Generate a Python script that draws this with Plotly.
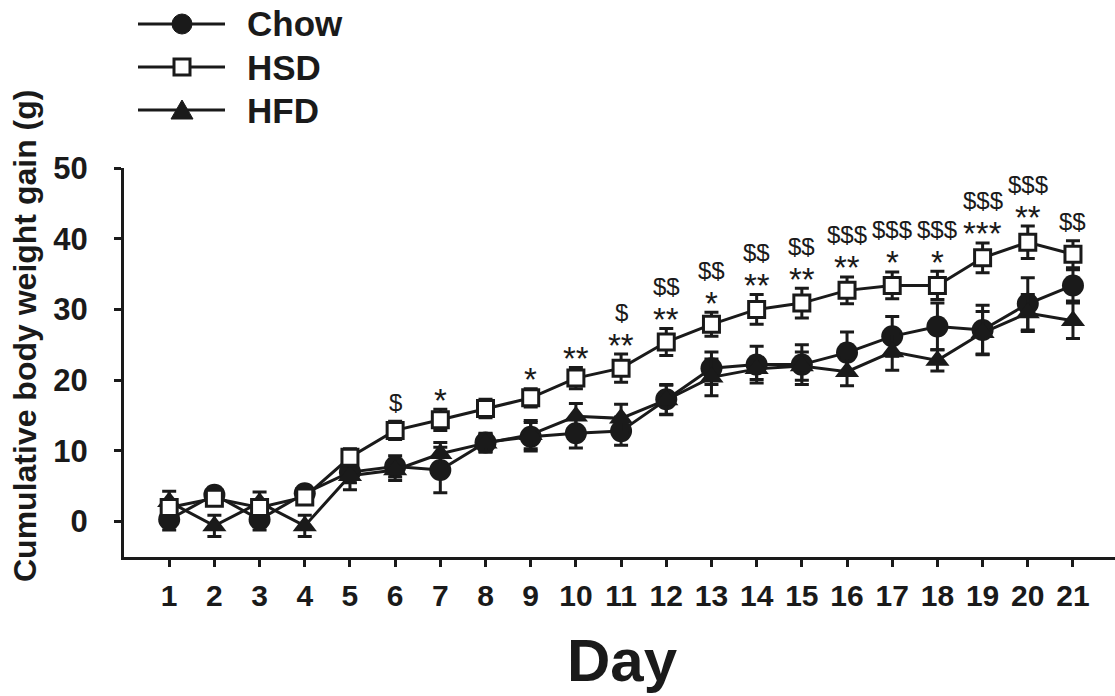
import plotly.graph_objects as go

# ---------------- data ----------------
days = list(range(1, 22))
chow = [0.3, 3.8, 0.3, 4.0, 7.0, 7.8, 7.3, 11.2, 12.0, 12.5, 12.8, 17.3, 21.7, 22.2, 22.2, 23.9, 26.2, 27.6, 27.1, 30.8, 33.4]
chow_err = [1.5, 1.0, 1.5, 1.0, 1.5, 1.5, 3.2, 1.3, 2.0, 2.1, 2.0, 2.1, 2.3, 2.6, 2.8, 2.9, 2.8, 3.3, 3.5, 3.7, 2.2]
hsd = [2.0, 3.3, 2.0, 3.5, 9.1, 12.9, 14.4, 16.0, 17.5, 20.3, 21.7, 25.4, 27.9, 30.0, 30.9, 32.7, 33.4, 33.4, 37.3, 39.5, 37.8]
hsd_err = [1.0, 1.0, 1.0, 1.0, 1.2, 1.3, 1.5, 1.3, 1.3, 1.5, 2.0, 1.9, 1.7, 2.1, 2.1, 1.9, 1.9, 2.0, 2.1, 2.3, 1.9]
hfd = [2.8, -0.6, 2.7, -0.6, 6.5, 7.3, 9.6, 11.1, 12.3, 14.9, 14.6, 17.2, 20.4, 21.6, 22.0, 21.2, 24.0, 22.8, 26.7, 29.5, 28.4]
hfd_err = [1.5, 1.5, 1.5, 1.5, 2.0, 1.5, 1.6, 1.3, 2.0, 1.8, 2.0, 2.1, 2.6, 1.5, 2.0, 2.0, 2.6, 1.5, 3.0, 2.6, 2.5]
stars = ["", "", "", "", "", "", "*", "", "*", "**", "**", "**", "*", "**", "**", "**", "*", "*", "***", "**", ""]
dollars = ["", "", "", "", "", "$", "", "", "", "", "$", "$$", "$$", "$$", "$$", "$$$", "$$$", "$$$", "$$$", "$$$", "$$"]
y_ticks = [0, 10, 20, 30, 40, 50]

INK = "#1a1a1a"
FONT = "Liberation Sans, Arial, sans-serif"

fig = go.Figure()

def err(arr):
    return dict(type="data", array=arr, visible=True, color=INK, thickness=3, width=7)

fig.add_trace(go.Scatter(x=days, y=chow, mode="lines+markers", name="Chow",
                         line=dict(color=INK, width=3),
                         marker=dict(symbol="circle", size=22, color=INK),
                         error_y=err(chow_err)))
fig.add_trace(go.Scatter(x=days, y=hfd, mode="lines+markers", name="HFD",
                         line=dict(color=INK, width=3),
                         marker=dict(symbol="triangle-up", size=21, color=INK),
                         error_y=err(hfd_err)))
fig.add_trace(go.Scatter(x=days, y=hsd, mode="lines+markers", name="HSD",
                         line=dict(color=INK, width=3),
                         marker=dict(symbol="square", size=16, color="white",
                                     line=dict(color=INK, width=3)),
                         error_y=err(hsd_err)))

annotations = []
for d, v, e, s, dl in zip(days, hsd, hsd_err, stars, dollars):
    top = v + e
    if s:
        annotations.append(dict(x=d, y=top, xref="x", yref="y", text=s, showarrow=False,
                                yanchor="middle", yshift=9,
                                font=dict(family=FONT, size=33, color=INK)))
    if dl:
        annotations.append(dict(x=d, y=top, xref="x", yref="y", text=dl, showarrow=False,
                                yanchor="middle", yshift=42 if s else 19,
                                font=dict(family=FONT, size=24, color=INK)))

# positions in page pixels -> paper coords
W, H, L, B = 991.0, 389.0, 124.0, 557.0
def px(x):
    return (x - L) / W
def py(y):
    return (B - y) / H

# axis titles
annotations.append(dict(x=px(25), y=py(336), xref="paper", yref="paper",
                        text="<b>Cumulative body weight gain (g)</b>", textangle=-90,
                        showarrow=False, xanchor="center", yanchor="middle",
                        font=dict(family=FONT, size=32, color=INK)))
annotations.append(dict(x=px(622), y=py(660), xref="paper", yref="paper",
                        text="<b>Day</b>", showarrow=False, xanchor="center", yanchor="middle",
                        font=dict(family=FONT, size=60, color=INK)))

# manual legend
shapes = []
legend_rows = [("Chow", 24), ("HSD", 67), ("HFD", 110)]
for name, ry in legend_rows:
    yy = py(ry)
    shapes.append(dict(type="line", xref="paper", yref="paper", x0=px(138), x1=px(225),
                       y0=yy, y1=yy, line=dict(color=INK, width=3)))
    annotations.append(dict(x=px(245), y=yy, xref="paper", yref="paper", text="<b>%s</b>" % name,
                            showarrow=False, xanchor="left", yanchor="middle",
                            font=dict(family=FONT, size=35, color=INK)))
    common = dict(xref="paper", yref="paper", xsizemode="pixel", ysizemode="pixel",
                  xanchor=px(182), yanchor=yy)
    if name == "Chow":
        shapes.append(dict(type="circle", x0=-10, x1=10, y0=-10, y1=10,
                           fillcolor=INK, line=dict(color=INK, width=1), **common))
    elif name == "HSD":
        shapes.append(dict(type="rect", x0=-8, x1=8, y0=-8, y1=8,
                           fillcolor="white", line=dict(color=INK, width=3), **common))
    else:
        shapes.append(dict(type="path", path="M -11,-9 L 11,-9 L 0,10 Z",
                           fillcolor=INK, line=dict(color=INK, width=1), **common))

fig.update_layout(
    width=1115, height=696,
    margin=dict(l=124, r=0, t=168, b=139, pad=0),
    paper_bgcolor="white", plot_bgcolor="white",
    showlegend=False,
    annotations=annotations,
    shapes=shapes,
    font=dict(family=FONT, color=INK),
)
fig.update_xaxes(range=[0, 21.93], tickmode="array", tickvals=days,
                 ticktext=["<b>%d</b>" % d for d in days],
                 showline=True, linewidth=3, linecolor=INK, showgrid=False, zeroline=False,
                 ticks="outside", ticklen=7, tickwidth=3, tickcolor=INK,
                 ticklabelstandoff=3,
                 tickfont=dict(family=FONT, size=30, color=INK))
fig.update_yaxes(range=[-5, 50], tickmode="array", tickvals=y_ticks,
                 ticktext=["<b>%d</b>" % t for t in y_ticks],
                 showline=True, linewidth=3, linecolor=INK, showgrid=False, zeroline=False,
                 ticks="outside", ticklen=7, tickwidth=3, tickcolor=INK,
                 ticklabelstandoff=20,
                 tickfont=dict(family=FONT, size=31, color=INK))

fig.write_html("out.html", config={"displayModeBar": False},
               post_script="document.body.style.margin='0';document.body.style.overflow='hidden';")
